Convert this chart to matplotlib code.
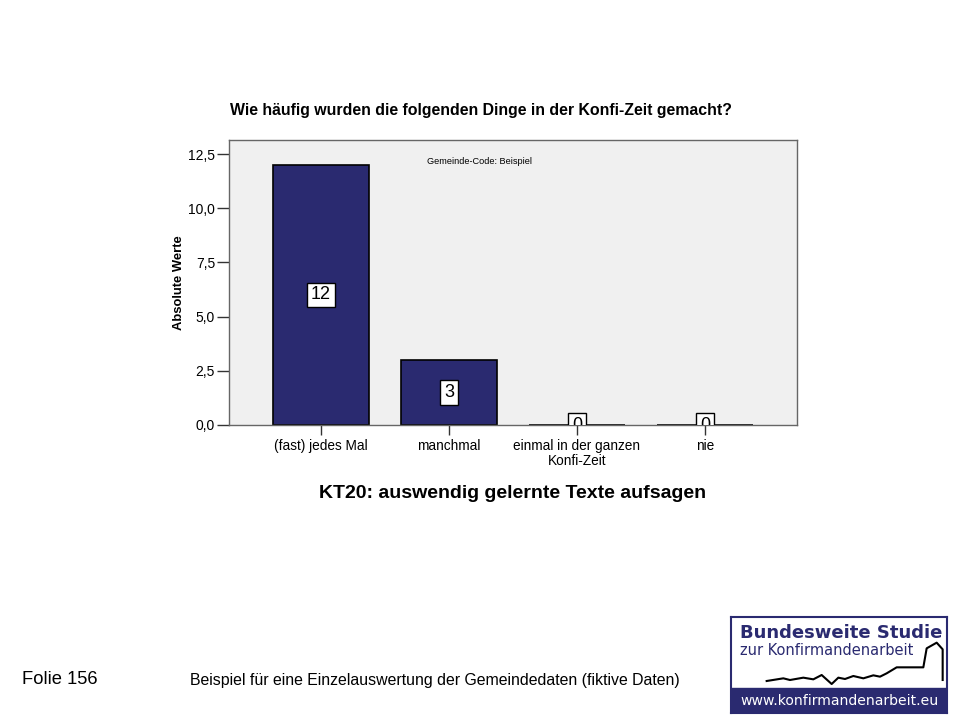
import numpy as np
import matplotlib
matplotlib.use('Agg')
import matplotlib.pyplot as plt
from matplotlib import ticker

plt.rcParams['font.family'] = ['Liberation Sans', 'DejaVu Sans']

categories = ['(fast) jedes Mal', 'manchmal', 'einmal in der ganzen\nKonfi-Zeit', 'nie']
values = [12, 3, 0, 0]
yticks = [0.0, 2.5, 5.0, 7.5, 10.0, 12.5]

navy = '#2a2a70'

fig = plt.figure(figsize=(9.6, 7.2), dpi=100)
ax = fig.add_axes([229/960, 1-425/720, 568/960, 285/720])
ax.set_facecolor('#f0f0f0')

x = np.arange(len(categories))
ax.bar(x, values, width=0.75, color=navy, edgecolor='black', linewidth=1.2, clip_on=False, zorder=2)
for i, v in zip(x, values):
    ax.text(i, v/2, str(v), ha='center', va='center', fontsize=13, zorder=3,
            bbox=dict(boxstyle='square,pad=0.2', fc='white', ec='black', lw=1), clip_on=True)

ax.set_xlim(-0.719, 3.719)
ax.set_ylim(0, 13.15)
ax.set_xticks(x)
ax.set_xticklabels(categories, fontsize=9.8, linespacing=1.1)
ax.set_yticks(yticks)
ax.yaxis.set_major_formatter(ticker.FuncFormatter(lambda v, p: ('%.1f' % v).replace('.', ',')))
ax.tick_params(axis='y', length=8.5, width=1, pad=1.5, labelsize=10, color='#333333')
ax.tick_params(axis='x', length=7, width=1, pad=3, color='#333333')
for s in ax.spines.values():
    s.set_color('#666666')
    s.set_linewidth(1)

ax.set_ylabel('Absolute Werte', fontsize=9.4, fontweight='bold', labelpad=2)
ax.set_xlabel('KT20: auswendig gelernte Texte aufsagen', fontsize=14, fontweight='bold', labelpad=12)
fig.text(481/960, 1-110/720, 'Wie häufig wurden die folgenden Dinge in der Konfi-Zeit gemacht?',
         ha='center', va='center', fontsize=11.4, fontweight='bold')
ax.text(0.349, 0.925, 'Gemeinde-Code: Beispiel', transform=ax.transAxes, fontsize=6.6, ha='left', va='center')

# footer
fig.text(22/960, 1-679/720, 'Folie 156', fontsize=13.2, ha='left', va='center')
fig.text(190/960, 1-680/720, 'Beispiel für eine Einzelauswertung der Gemeindedaten (fiktive Daten)',
         fontsize=11.45, ha='left', va='center')

# logo
lg = fig.add_axes([731/960, 1-713/720, 216/960, 96/720])
lg.set_xlim(0, 1)
lg.set_ylim(0, 1)
lg.set_xticks([])
lg.set_yticks([])
for s in lg.spines.values():
    s.set_color(navy)
    s.set_linewidth(1.5)
lg.axhspan(0, 0.26, color=navy)
lg.text(0.04, 0.83, 'Bundesweite Studie', color=navy, fontsize=13, fontweight='bold',
        family='DejaVu Sans', va='center', ha='left')
lg.text(0.04, 0.655, 'zur Konfirmandenarbeit', color=navy, fontsize=10.5,
        family='DejaVu Sans', va='center', ha='left')
lg.text(0.045, 0.13, 'www.konfirmandenarbeit.eu', color='white', fontsize=10.1,
        family='DejaVu Sans', va='center', ha='left')
zz = [(140, 213), (190, 205), (210, 210), (250, 203), (280, 208), (305, 195), (335, 222),
      (355, 203), (375, 207), (400, 198), (430, 205), (460, 196), (480, 200), (500, 190),
      (530, 172), (610, 172), (620, 115), (650, 98), (668, 118), (668, 210)]
lx = [((720 + a/3) - 731)/216 for a, b in zz]
ly = [(713 - (610 + b/3))/96 for a, b in zz]
lg.plot(lx, ly, color='black', lw=1.5)

fig.savefig('out.png', dpi=100)
